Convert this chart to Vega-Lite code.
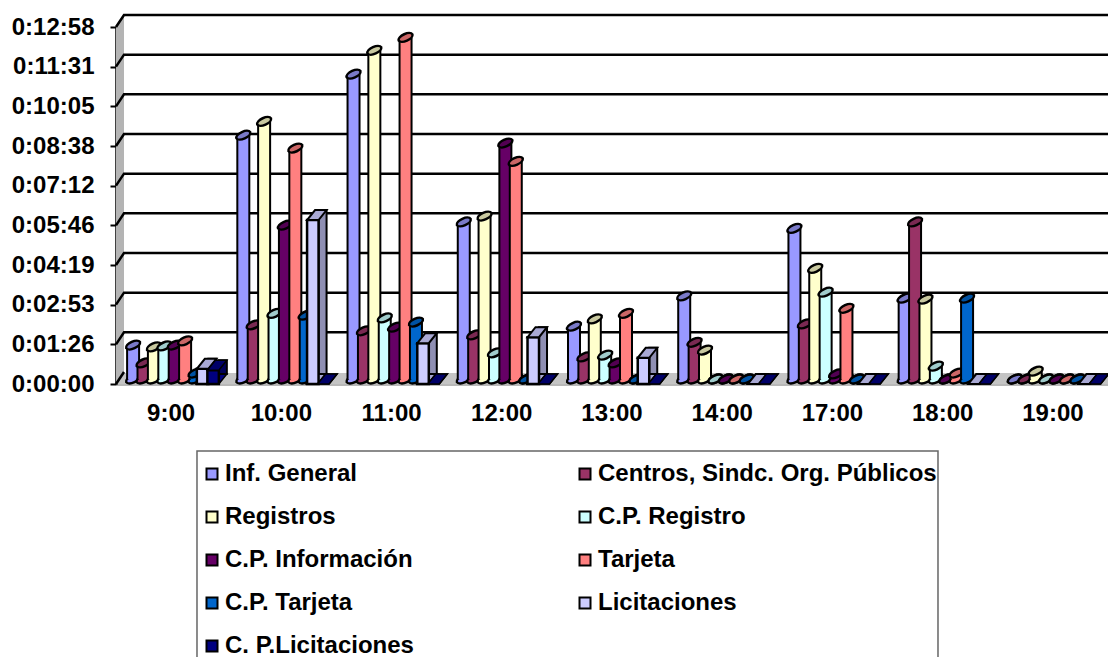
{"$schema":"https://vega.github.io/schema/vega-lite/v6.json","width":992,"height":357,"autosize":{"type":"none"},"padding":{"left":116,"top":27,"right":0,"bottom":273},"background":"white","config":{"view":{"stroke":null},"font":"Liberation Sans"},
"datasets":{"one":[{"t":0}],"ticks0":[{"t":0},{"t":86.4},{"t":172.8},{"t":259.2},{"t":345.6},{"t":432},{"t":518.4},{"t":604.8},{"t":691.2},{"t":777.6}],
"rows":[
{"h":"9:00","s":"Inf. General","v":74},{"h":"9:00","s":"Centros, Sindc. Org. Públicos","v":35},{"h":"9:00","s":"Registros","v":70},{"h":"9:00","s":"C.P. Registro","v":72},{"h":"9:00","s":"C.P. Información","v":74},{"h":"9:00","s":"Tarjeta","v":83},{"h":"9:00","s":"C.P. Tarjeta","v":13},{"h":"9:00","s":"Licitaciones","v":33},{"h":"9:00","s":"C. P.Licitaciones","v":30},
{"h":"10:00","s":"Inf. General","v":531},{"h":"10:00","s":"Centros, Sindc. Org. Públicos","v":118},{"h":"10:00","s":"Registros","v":561},{"h":"10:00","s":"C.P. Registro","v":143},{"h":"10:00","s":"C.P. Información","v":335},{"h":"10:00","s":"Tarjeta","v":503},{"h":"10:00","s":"C.P. Tarjeta","v":139},{"h":"10:00","s":"Licitaciones","v":357},{"h":"10:00","s":"C. P.Licitaciones","v":0},
{"h":"11:00","s":"Inf. General","v":664},{"h":"11:00","s":"Centros, Sindc. Org. Públicos","v":105},{"h":"11:00","s":"Registros","v":716},{"h":"11:00","s":"C.P. Registro","v":133},{"h":"11:00","s":"C.P. Información","v":113},{"h":"11:00","s":"Tarjeta","v":744},{"h":"11:00","s":"C.P. Tarjeta","v":124},{"h":"11:00","s":"Licitaciones","v":89},{"h":"11:00","s":"C. P.Licitaciones","v":0},
{"h":"12:00","s":"Inf. General","v":342},{"h":"12:00","s":"Centros, Sindc. Org. Públicos","v":96},{"h":"12:00","s":"Registros","v":355},{"h":"12:00","s":"C.P. Registro","v":57},{"h":"12:00","s":"C.P. Información","v":514},{"h":"12:00","s":"Tarjeta","v":474},{"h":"12:00","s":"C.P. Tarjeta","v":0},{"h":"12:00","s":"Licitaciones","v":102},{"h":"12:00","s":"C. P.Licitaciones","v":0},
{"h":"13:00","s":"Inf. General","v":115},{"h":"13:00","s":"Centros, Sindc. Org. Públicos","v":48},{"h":"13:00","s":"Registros","v":131},{"h":"13:00","s":"C.P. Registro","v":52},{"h":"13:00","s":"C.P. Información","v":35},{"h":"13:00","s":"Tarjeta","v":143},{"h":"13:00","s":"C.P. Tarjeta","v":0},{"h":"13:00","s":"Licitaciones","v":57},{"h":"13:00","s":"C. P.Licitaciones","v":0},
{"h":"14:00","s":"Inf. General","v":181},{"h":"14:00","s":"Centros, Sindc. Org. Públicos","v":80},{"h":"14:00","s":"Registros","v":63},{"h":"14:00","s":"C.P. Registro","v":0},{"h":"14:00","s":"C.P. Información","v":0},{"h":"14:00","s":"Tarjeta","v":0},{"h":"14:00","s":"C.P. Tarjeta","v":0},{"h":"14:00","s":"Licitaciones","v":0},{"h":"14:00","s":"C. P.Licitaciones","v":0},
{"h":"17:00","s":"Inf. General","v":328},{"h":"17:00","s":"Centros, Sindc. Org. Públicos","v":120},{"h":"17:00","s":"Registros","v":241},{"h":"17:00","s":"C.P. Registro","v":189},{"h":"17:00","s":"C.P. Información","v":11},{"h":"17:00","s":"Tarjeta","v":154},{"h":"17:00","s":"C.P. Tarjeta","v":0},{"h":"17:00","s":"Licitaciones","v":0},{"h":"17:00","s":"C. P.Licitaciones","v":0},
{"h":"18:00","s":"Inf. General","v":176},{"h":"18:00","s":"Centros, Sindc. Org. Públicos","v":342},{"h":"18:00","s":"Registros","v":174},{"h":"18:00","s":"C.P. Registro","v":28},{"h":"18:00","s":"C.P. Información","v":0},{"h":"18:00","s":"Tarjeta","v":13},{"h":"18:00","s":"C.P. Tarjeta","v":176},{"h":"18:00","s":"Licitaciones","v":0},{"h":"18:00","s":"C. P.Licitaciones","v":0},
{"h":"19:00","s":"Inf. General","v":0},{"h":"19:00","s":"Centros, Sindc. Org. Públicos","v":0},{"h":"19:00","s":"Registros","v":17},{"h":"19:00","s":"C.P. Registro","v":0},{"h":"19:00","s":"C.P. Información","v":0},{"h":"19:00","s":"Tarjeta","v":0},{"h":"19:00","s":"C.P. Tarjeta","v":0},{"h":"19:00","s":"Licitaciones","v":0},{"h":"19:00","s":"C. P.Licitaciones","v":0}
]},
"layer":[
{"data":{"name":"one"},"mark":{"type":"point","shape":"M81,67H822V320H81Z","filled":true,"fill":"#fff","stroke":"#666","strokeWidth":1.5,"opacity":1,"size":4,"xOffset":-4.7},"encoding":{"x":{"datum":"9:00","type":"nominal","bandPosition":0},"y":{"datum":0,"type":"quantitative"}}},
{"data":{"name":"one"},"mark":{"type":"point","shape":"M0,0L0,-357L8,-369L8,-12Z","filled":true,"fill":"#b4b4b4","opacity":1,"size":4,"xOffset":-4.7},"encoding":{"x":{"datum":"9:00","type":"nominal","bandPosition":0},"y":{"datum":0,"type":"quantitative"}}},
{"data":{"name":"one"},"mark":{"type":"point","shape":"M0,0L8,-11L992,-11L992,0Z","filled":true,"fill":"#c4c4c4","opacity":1,"size":4,"xOffset":-4.7},"encoding":{"x":{"datum":"9:00","type":"nominal","bandPosition":0},"y":{"datum":0,"type":"quantitative"}}},
{"data":{"name":"ticks0"},"transform":[{"filter":"datum.t>0"}],"mark":{"type":"point","shape":"M0,0L8,-12L992,-12","filled":false,"stroke":"#000","strokeWidth":2.5,"opacity":1,"size":4,"xOffset":-4.7},"encoding":{"x":{"datum":"9:00","type":"nominal","bandPosition":0},"y":{"field":"t","type":"quantitative"}}},
{"data":{"name":"ticks0"},"transform":[{"filter":"datum.t===0"}],"mark":{"type":"point","shape":"M0,0L8,-12","filled":false,"stroke":"#000","strokeWidth":2.5,"opacity":1,"size":4,"xOffset":-4.7},"encoding":{"x":{"datum":"9:00","type":"nominal","bandPosition":0},"y":{"field":"t","type":"quantitative"}}},
{"data":{"name":"rows"},
"encoding":{
"x":{"field":"h","type":"nominal","title":null,"scale":{"domain":["9:00","10:00","11:00","12:00","13:00","14:00","17:00","18:00","19:00"],"paddingInner":0.0853,"paddingOuter":0.0426},"axis":{"labelAngle":0,"labelAlign":"center","labelOverlap":false,"ticks":false,"labelFontSize":24,"labelFontWeight":"bold","labelFont":"Liberation Sans","labelColor":"#000","labelPadding":29,"domainColor":"#b8b8b8","domainWidth":3}},
"xOffset":{"field":"s","type":"nominal","scale":{"domain":["Inf. General","Centros, Sindc. Org. Públicos","Registros","C.P. Registro","C.P. Información","Tarjeta","C.P. Tarjeta","Licitaciones","C. P.Licitaciones"],"paddingInner":0,"paddingOuter":0.346,"align":1}},
"y":{"field":"v","type":"quantitative","title":null,"scale":{"domain":[0,777.6],"nice":false},"axis":{"values":[0,86.4,172.8,259.2,345.6,432,518.4,604.8,691.2,777.6],"tickCount":20,"grid":false,"labelOverlap":false,"labelExpr":"timeFormat(datetime(2000,0,1,0,0,round(datum.value)),'%-H:%M:%S')","labelFontSize":24,"labelFontWeight":"bold","labelFont":"Liberation Sans","labelColor":"#000","labelPadding":16,"tickColor":"#000","tickSize":6,"tickWidth":2,"domainColor":"#000","domainWidth":2.5}}
},
"layer":[
{"transform":[{"filter":"datum.s==='Inf. General'"}],"layer":[
{"mark":{"type":"point","shape":"M-1,0.45A1.1,0.55,-24.2,0,1,1,-0.45A1.1,0.55,-24.2,0,1,-1,0.45Z","filled":true,"fill":"#9999FF","stroke":"#000","strokeWidth":2.5,"size":190,"opacity":1,"yOffset":-5},"encoding":{"y":{"datum":0,"type":"quantitative"}}},
{"mark":{"type":"bar","size":14,"fill":"#000","yOffset":-5,"y2Offset":-5},"encoding":{"y2":{"datum":0}}},
{"mark":{"type":"bar","size":10,"yOffset":-5,"y2Offset":-5},"encoding":{"y2":{"datum":0},"fill":{"field":"s","type":"nominal","scale":{"domain":["Inf. General","Centros, Sindc. Org. Públicos","Registros","C.P. Registro","C.P. Información","Tarjeta","C.P. Tarjeta","Licitaciones","C. P.Licitaciones"],"range":["#9999FF","#993366","#FFFFCC","#CCFFFF","#660066","#FF8080","#0066CC","#CCCCFF","#000080"]},"legend":{"title":null,"orient":"none","legendX":84,"legendY":435,"direction":"horizontal","columns":2,"gridAlign":"each","columnPadding":159,"rowPadding":19,"padding":0,"symbolType":"square","symbolSize":121,"symbolStrokeColor":"#000","symbolStrokeWidth":2,"symbolOpacity":1,"labelFont":"Liberation Sans","labelFontSize":24,"labelFontWeight":"bold","labelColor":"#000","labelLimit":500,"labelOffset":1}}}},
{"mark":{"type":"point","shape":"M-1,0.45A1.1,0.55,-24.2,0,1,1,-0.45A1.1,0.55,-24.2,0,1,-1,0.45Z","filled":true,"fill":"#7a7ac8","stroke":"#000","strokeWidth":2.5,"size":190,"opacity":1,"yOffset":-5}}
]},
{"transform":[{"filter":"datum.s==='Centros, Sindc. Org. Públicos'"}],"layer":[
{"mark":{"type":"point","shape":"M-1,0.45A1.1,0.55,-24.2,0,1,1,-0.45A1.1,0.55,-24.2,0,1,-1,0.45Z","filled":true,"fill":"#993366","stroke":"#000","strokeWidth":2.5,"size":190,"opacity":1,"yOffset":-5},"encoding":{"y":{"datum":0,"type":"quantitative"}}},
{"mark":{"type":"bar","size":14,"fill":"#000","yOffset":-5,"y2Offset":-5},"encoding":{"y2":{"datum":0}}},
{"mark":{"type":"bar","size":10,"fill":"#993366","yOffset":-5,"y2Offset":-5},"encoding":{"y2":{"datum":0}}},
{"mark":{"type":"point","shape":"M-1,0.45A1.1,0.55,-24.2,0,1,1,-0.45A1.1,0.55,-24.2,0,1,-1,0.45Z","filled":true,"fill":"#7a2952","stroke":"#000","strokeWidth":2.5,"size":190,"opacity":1,"yOffset":-5}}
]},
{"transform":[{"filter":"datum.s==='Registros'"}],"layer":[
{"mark":{"type":"point","shape":"M-1,0.45A1.1,0.55,-24.2,0,1,1,-0.45A1.1,0.55,-24.2,0,1,-1,0.45Z","filled":true,"fill":"#FFFFCC","stroke":"#000","strokeWidth":2.5,"size":190,"opacity":1,"yOffset":-5},"encoding":{"y":{"datum":0,"type":"quantitative"}}},
{"mark":{"type":"bar","size":14,"fill":"#000","yOffset":-5,"y2Offset":-5},"encoding":{"y2":{"datum":0}}},
{"mark":{"type":"bar","size":10,"fill":"#FFFFCC","yOffset":-5,"y2Offset":-5},"encoding":{"y2":{"datum":0}}},
{"mark":{"type":"point","shape":"M-1,0.45A1.1,0.55,-24.2,0,1,1,-0.45A1.1,0.55,-24.2,0,1,-1,0.45Z","filled":true,"fill":"#c9c9a0","stroke":"#000","strokeWidth":2.5,"size":190,"opacity":1,"yOffset":-5}}
]},
{"transform":[{"filter":"datum.s==='C.P. Registro'"}],"layer":[
{"mark":{"type":"point","shape":"M-1,0.45A1.1,0.55,-24.2,0,1,1,-0.45A1.1,0.55,-24.2,0,1,-1,0.45Z","filled":true,"fill":"#CCFFFF","stroke":"#000","strokeWidth":2.5,"size":190,"opacity":1,"yOffset":-5},"encoding":{"y":{"datum":0,"type":"quantitative"}}},
{"mark":{"type":"bar","size":14,"fill":"#000","yOffset":-5,"y2Offset":-5},"encoding":{"y2":{"datum":0}}},
{"mark":{"type":"bar","size":10,"fill":"#CCFFFF","yOffset":-5,"y2Offset":-5},"encoding":{"y2":{"datum":0}}},
{"mark":{"type":"point","shape":"M-1,0.45A1.1,0.55,-24.2,0,1,1,-0.45A1.1,0.55,-24.2,0,1,-1,0.45Z","filled":true,"fill":"#a0cccc","stroke":"#000","strokeWidth":2.5,"size":190,"opacity":1,"yOffset":-5}}
]},
{"transform":[{"filter":"datum.s==='C.P. Información'"}],"layer":[
{"mark":{"type":"point","shape":"M-1,0.45A1.1,0.55,-24.2,0,1,1,-0.45A1.1,0.55,-24.2,0,1,-1,0.45Z","filled":true,"fill":"#660066","stroke":"#000","strokeWidth":2.5,"size":190,"opacity":1,"yOffset":-5},"encoding":{"y":{"datum":0,"type":"quantitative"}}},
{"mark":{"type":"bar","size":14,"fill":"#000","yOffset":-5,"y2Offset":-5},"encoding":{"y2":{"datum":0}}},
{"mark":{"type":"bar","size":10,"fill":"#660066","yOffset":-5,"y2Offset":-5},"encoding":{"y2":{"datum":0}}},
{"mark":{"type":"point","shape":"M-1,0.45A1.1,0.55,-24.2,0,1,1,-0.45A1.1,0.55,-24.2,0,1,-1,0.45Z","filled":true,"fill":"#520052","stroke":"#000","strokeWidth":2.5,"size":190,"opacity":1,"yOffset":-5}}
]},
{"transform":[{"filter":"datum.s==='Tarjeta'"}],"layer":[
{"mark":{"type":"point","shape":"M-1,0.45A1.1,0.55,-24.2,0,1,1,-0.45A1.1,0.55,-24.2,0,1,-1,0.45Z","filled":true,"fill":"#FF8080","stroke":"#000","strokeWidth":2.5,"size":190,"opacity":1,"yOffset":-5},"encoding":{"y":{"datum":0,"type":"quantitative"}}},
{"mark":{"type":"bar","size":14,"fill":"#000","yOffset":-5,"y2Offset":-5},"encoding":{"y2":{"datum":0}}},
{"mark":{"type":"bar","size":10,"fill":"#FF8080","yOffset":-5,"y2Offset":-5},"encoding":{"y2":{"datum":0}}},
{"mark":{"type":"point","shape":"M-1,0.45A1.1,0.55,-24.2,0,1,1,-0.45A1.1,0.55,-24.2,0,1,-1,0.45Z","filled":true,"fill":"#cc6666","stroke":"#000","strokeWidth":2.5,"size":190,"opacity":1,"yOffset":-5}}
]},
{"transform":[{"filter":"datum.s==='C.P. Tarjeta'"}],"layer":[
{"mark":{"type":"point","shape":"M-1,0.45A1.1,0.55,-24.2,0,1,1,-0.45A1.1,0.55,-24.2,0,1,-1,0.45Z","filled":true,"fill":"#0066CC","stroke":"#000","strokeWidth":2.5,"size":190,"opacity":1,"yOffset":-5},"encoding":{"y":{"datum":0,"type":"quantitative"}}},
{"mark":{"type":"bar","size":14,"fill":"#000","yOffset":-5,"y2Offset":-5},"encoding":{"y2":{"datum":0}}},
{"mark":{"type":"bar","size":10,"fill":"#0066CC","yOffset":-5,"y2Offset":-5},"encoding":{"y2":{"datum":0}}},
{"mark":{"type":"point","shape":"M-1,0.45A1.1,0.55,-24.2,0,1,1,-0.45A1.1,0.55,-24.2,0,1,-1,0.45Z","filled":true,"fill":"#0052a3","stroke":"#000","strokeWidth":2.5,"size":190,"opacity":1,"yOffset":-5}}
]},
{"transform":[{"filter":"datum.s==='Licitaciones'"}],"layer":[
{"mark":{"type":"point","shape":"M-1.15,0L1.15,0L2.75,-2L0.45,-2Z","filled":true,"fill":"#a9a9d4","stroke":"#000","strokeWidth":2,"size":100,"opacity":1},"encoding":{"y":{"datum":0,"type":"quantitative"},"xOffset":{"value":81.9}}},
{"transform":[{"filter":"datum.v>0"}],"mark":{"type":"bar","size":8,"fill":"#8f8fb3","stroke":"#000","strokeWidth":2,"yOffset":-10,"y2Offset":-10},"encoding":{"y2":{"datum":0},"xOffset":{"value":91.65}}},
{"transform":[{"filter":"datum.v>0"}],"mark":{"type":"bar","size":11.5,"fill":"#CCCCFF","stroke":"#000","strokeWidth":2.5},"encoding":{"y2":{"datum":0},"xOffset":{"value":81.9}}},
{"mark":{"type":"point","shape":"M-1.15,0L1.15,0L2.75,-2L0.45,-2Z","filled":true,"fill":"#a9a9d4","stroke":"#000","strokeWidth":2,"size":100,"opacity":1},"encoding":{"xOffset":{"value":81.9}}}
]},
{"transform":[{"filter":"datum.s==='C. P.Licitaciones'"}],"layer":[
{"mark":{"type":"point","shape":"M-1.15,0L1.15,0L2.75,-2L0.45,-2Z","filled":true,"fill":"#000080","stroke":"#000","strokeWidth":1.5,"size":100,"opacity":1},"encoding":{"y":{"datum":0,"type":"quantitative"},"xOffset":{"value":92.4}}},
{"transform":[{"filter":"datum.v>0"}],"mark":{"type":"bar","size":8,"fill":"#00005a","stroke":"#000","strokeWidth":2,"yOffset":-10,"y2Offset":-10},"encoding":{"y2":{"datum":0},"xOffset":{"value":102.15}}},
{"transform":[{"filter":"datum.v>0"}],"mark":{"type":"bar","size":11.5,"fill":"#000080","stroke":"#000","strokeWidth":2.5},"encoding":{"y2":{"datum":0},"xOffset":{"value":92.4}}},
{"mark":{"type":"point","shape":"M-1.15,0L1.15,0L2.75,-2L0.45,-2Z","filled":true,"fill":"#000068","stroke":"#000","strokeWidth":1.5,"size":100,"opacity":1},"encoding":{"xOffset":{"value":92.4}}}
]}
]}
]}
